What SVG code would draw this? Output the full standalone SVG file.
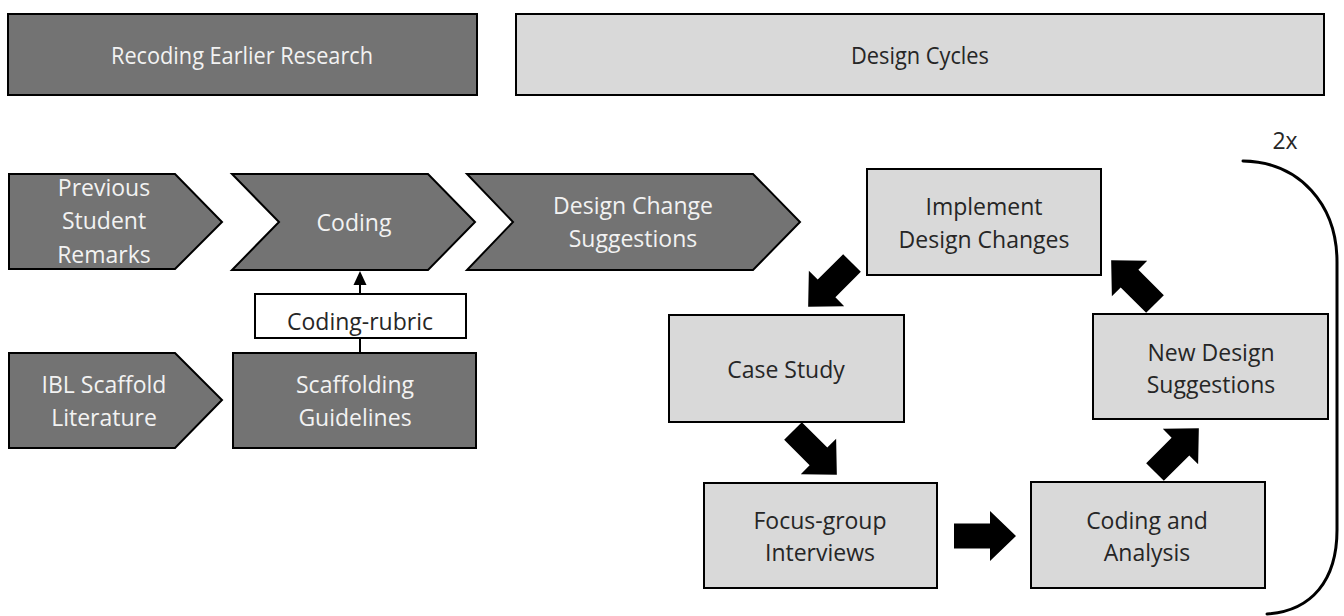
<svg xmlns="http://www.w3.org/2000/svg" width="1344" height="616" viewBox="0 0 1344 616">
  <style>
    .dark { fill: #737373; stroke: #000; stroke-width: 2; }
    .light { fill: #d9d9d9; stroke: #000; stroke-width: 2; }
    .plain { fill: #fff; stroke: #000; stroke-width: 2; }
    text { font-family: "Open Sans", "Liberation Sans", sans-serif; font-size: 23px; text-anchor: middle; }
    .wt { fill: #f2f2f2; }
    .bk { fill: #262626; }
    .line { fill: none; stroke: #000; stroke-width: 2; }
    .loop { fill: none; stroke: #000; stroke-width: 3; stroke-linecap: round; }
  </style>
  <defs>
    <!-- block arrow pointing along +x, tail at origin -->
    <path id="blk" d="M0,-12.5 L36,-12.5 L36,-25 L62,0 L36,25 L36,12.5 L0,12.5 Z" fill="#000"/>
  </defs>

  <rect width="1344" height="616" fill="#fff"/>

  <!-- section headers -->
  <g id="hdr-recoding">
    <rect class="dark" x="8" y="14" width="469" height="81"/>
    <text class="wt" x="242" y="64" textLength="262" lengthAdjust="spacingAndGlyphs">Recoding Earlier Research</text>
  </g>
  <g id="hdr-cycles">
    <rect class="light" x="516" y="14" width="808" height="81"/>
    <text class="bk" x="920" y="64" textLength="138" lengthAdjust="spacingAndGlyphs">Design Cycles</text>
  </g>

  <!-- earlier research chain -->
  <g id="n-remarks">
    <path class="dark" d="M9,174 L175,174 L222,222 L175,269 L9,269 Z"/>
    <text class="wt" x="104" y="196">Previous</text>
    <text class="wt" x="104" y="229">Student</text>
    <text class="wt" x="104" y="263">Remarks</text>
  </g>
  <g id="n-coding">
    <path class="dark" d="M232,174 L428,174 L475,222 L428,270 L232,270 L279,222 Z"/>
    <text class="wt" x="354" y="231">Coding</text>
  </g>
  <g id="n-suggestions">
    <path class="dark" d="M467,174 L753,174 L800,222 L753,270 L467,270 L513,222 Z"/>
    <text class="wt" x="633" y="214">Design Change</text>
    <text class="wt" x="633" y="247">Suggestions</text>
  </g>
  <g id="n-literature">
    <path class="dark" d="M9,353 L175,353 L222,400 L175,448 L9,448 Z"/>
    <text class="wt" x="104" y="393">IBL Scaffold</text>
    <text class="wt" x="104" y="426">Literature</text>
  </g>
  <g id="n-guidelines">
    <rect class="dark" x="233" y="353" width="243" height="95"/>
    <text class="wt" x="355" y="393">Scaffolding</text>
    <text class="wt" x="355" y="426">Guidelines</text>
  </g>

  <!-- design cycle -->
  <g id="n-implement">
    <rect class="light" x="867" y="169" width="234" height="106"/>
    <text class="bk" x="984" y="215">Implement</text>
    <text class="bk" x="984" y="248">Design Changes</text>
  </g>
  <g id="n-case">
    <rect class="light" x="669" y="315" width="235" height="107"/>
    <text class="bk" x="786" y="378">Case Study</text>
  </g>
  <g id="n-focus">
    <rect class="light" x="704" y="483" width="233" height="105"/>
    <text class="bk" x="820" y="529">Focus-group</text>
    <text class="bk" x="820" y="561">Interviews</text>
  </g>
  <g id="n-analysis">
    <rect class="light" x="1031" y="482" width="234" height="106"/>
    <text class="bk" x="1147" y="529">Coding and</text>
    <text class="bk" x="1147" y="561">Analysis</text>
  </g>
  <g id="n-newdesign">
    <rect class="light" x="1093" y="314" width="235" height="105"/>
    <text class="bk" x="1211" y="361">New Design</text>
    <text class="bk" x="1211" y="393">Suggestions</text>
  </g>

  <g id="connectors">
    <!-- guidelines feed the coding step through the rubric -->
    <line class="line" x1="360" y1="353" x2="360" y2="338"/>
    <line class="line" x1="360" y1="294" x2="360" y2="284"/>
    <path d="M360,271 L366.5,285 L353.5,285 Z" fill="#000"/>
    <g id="n-rubric">
      <rect class="plain" x="255" y="294" width="211" height="44"/>
      <text class="bk" x="360" y="330">Coding-rubric</text>
    </g>

    <!-- cycle arrows -->
    <use href="#blk" transform="translate(852,263) rotate(135)"/>
    <use href="#blk" transform="translate(793,431) rotate(45)"/>
    <use href="#blk" transform="translate(954,536)"/>
    <use href="#blk" transform="translate(1155,472) rotate(-45)"/>
    <use href="#blk" transform="translate(1155,304) rotate(-135)"/>

    <!-- repeat loop -->
    <path class="loop" d="M1243,161 C1300,162 1337,205 1337,262 L1337,530 C1337,580 1312,611 1267,614"/>
    <text class="bk" x="1285" y="149">2x</text>
  </g>
</svg>
